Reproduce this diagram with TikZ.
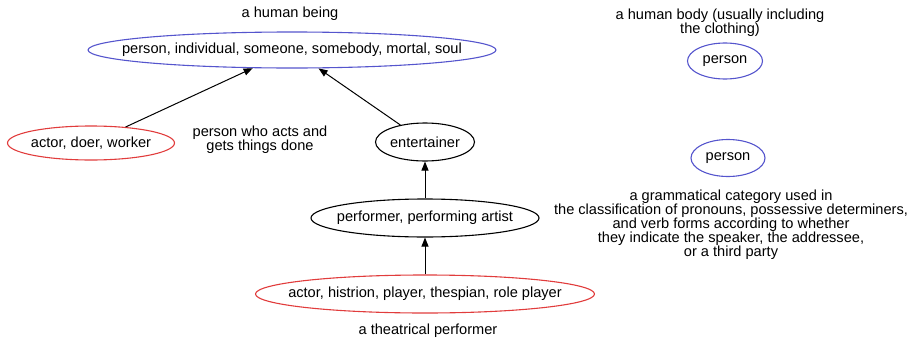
\documentclass[tikz,border=0pt]{standalone}
\usepackage{fontspec}
\setmainfont{Liberation Sans}
\usetikzlibrary{shapes.geometric,arrows.meta}
\definecolor{nblue}{RGB}{85,85,205}
\definecolor{nred}{RGB}{225,60,60}
\tikzset{
  every node/.style={font=\fontsize{14.6}{13.9}\selectfont, inner sep=0pt},
  ell/.style={ellipse, draw, line width=1.1pt},
  blueell/.style={ell, draw=nblue},
  redell/.style={ell, draw=nred},
  blackell/.style={ell, draw=black},
  gloss/.style={align=center},
  hyp/.style={draw, line width=1pt, -{Triangle[length=9pt,width=7pt]}}
}
\newcommand{\zb}[1]{\makebox[0pt]{#1}}
\begin{document}
\begin{tikzpicture}[x=1pt,y=-1pt]
\useasboundingbox (0,0) rectangle (919,343);
\node[gloss] (g1) at (290,14) {a human being};
\node[blueell, minimum width=408, minimum height=36] (top) at (292,50) {\zb{person, individual, someone, somebody, mortal, soul}};
\node[redell, minimum width=167, minimum height=34] (doer) at (91,143) {\zb{actor, doer, worker}};
\node[gloss] (g2) at (260,140) {person who acts and\\gets things done};
\node[blackell, minimum width=99, minimum height=38] (ent) at (425,142) {\zb{entertainer}};
\node[blackell, minimum width=228, minimum height=38] (perf) at (425,218) {\zb{performer, performing artist}};
\node[redell, minimum width=339, minimum height=38] (act) at (425,294) {\zb{actor, histrion, player, thespian, role player}};
\node[gloss] (g3) at (428,331) {a theatrical performer};
\node[gloss] (g4) at (720,23) {a human body (usually including\\the clothing)};
\node[blueell, minimum width=75, minimum height=36] (p1) at (725,61) {\zb{person}};
\node[blueell, minimum width=74, minimum height=37] (p2) at (728,158) {\zb{person}};
\node[gloss] (g5) at (731,225) {a grammatical category used in\\the classification of pronouns, possessive determiners,\\and verb forms according to whether\\they indicate the speaker, the addressee,\\or a third party};
\draw[hyp] (doer) -- (top);
\draw[hyp] (ent) -- (top);
\draw[hyp] (perf) -- (ent);
\draw[hyp] (act) -- (perf);
\end{tikzpicture}
\end{document}
